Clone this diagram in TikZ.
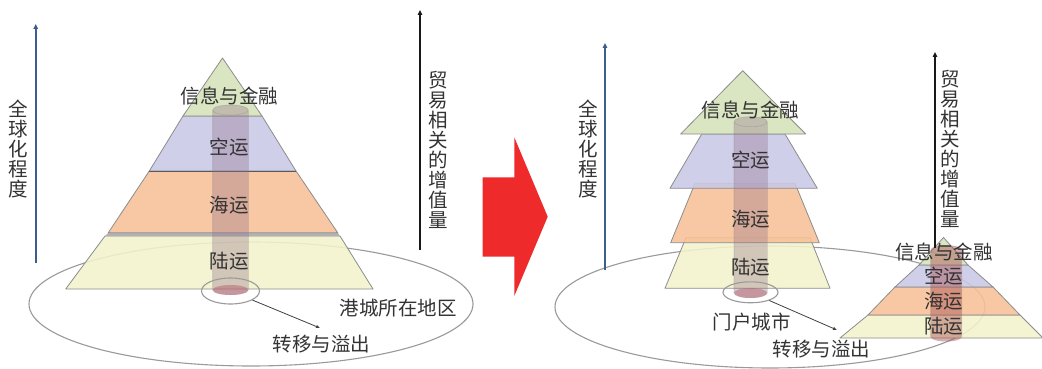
\documentclass[tikz,border=0pt]{standalone}
\usepackage{fontspec}
\newfontfamily\cjk{Noto Sans CJK SC}
\usetikzlibrary{shapes.geometric,arrows.meta,calc}
\definecolor{lgreen}{HTML}{D5E3BA}
\definecolor{lpurple}{HTML}{C9C9E6}
\definecolor{lorange}{HTML}{F7C197}
\definecolor{lyellow}{HTML}{F3F3CC}
\definecolor{edgec}{HTML}{8C8C8C}
\definecolor{txt}{HTML}{333333}
\definecolor{axisblue}{HTML}{3B5F8A}
\definecolor{redarrow}{HTML}{EE2A2A}
\definecolor{cylcol}{HTML}{8E6A86}
\definecolor{cylred}{HTML}{A84E50}
\definecolor{capred}{HTML}{B86A72}
\definecolor{ringc}{HTML}{9A9A9A}
\tikzset{
  band/.style={draw=edgec, line width=0.8pt, line join=round, fill opacity=0.88},
  lbl/.style={font=\cjk\fontsize{19.5}{20}\selectfont, text=txt, inner sep=0pt},
  vlbl/.style={lbl, align=center},
  ring/.style={ellipse, draw=ringc, line width=1.1pt, inner sep=0pt},
  conn/.style={draw=black!75, line width=0.8pt, -{Latex[length=4pt,width=3.5pt]}},
  blueaxis/.style={draw=axisblue, line width=1.6pt, -{Triangle[length=5pt,width=4.5pt]}},
  blackaxis/.style={draw=black!90, line width=1.4pt, -{Triangle[length=5pt,width=4.5pt]}},
  cylline/.style={draw=gray, draw opacity=0.35, line width=0.6pt}
}
\begin{document}
\begin{tikzpicture}[x=1pt,y=-1pt]
\useasboundingbox[fill=white] (0,0) rectangle (1042,369);

% ---------- region ellipses ----------
\node[ring, minimum width=444pt, minimum height=124pt] (reg1) at (251,304) {};
\node[ring, minimum width=430pt, minimum height=122pt] (reg2) at (770,307) {};

% ---------- left pyramid ----------
\filldraw[band, fill=lyellow] (105,236) -- (340,236) -- (373,289) -- (65.7,289) -- cycle;
\fill[gray!60] (108.3,232.7) -- (337.7,232.7) -- (340,236) -- (105,236) -- cycle;
\filldraw[band, fill=lorange] (149.3,171) -- (296,171) -- (337.7,232.7) -- (108.3,232.7) -- cycle;
\filldraw[band, fill=lpurple] (183,116) -- (262,116) -- (296,171) -- (149.3,171) -- cycle;
\draw[line width=1pt, black!65] (149.3,171) -- (296,171);
\filldraw[band, fill=lgreen] (222.5,58) -- (262,116) -- (183,116) -- cycle;

% left cylinder
\fill[cylcol, opacity=0.33] (212.7,110) -- (212.7,290) arc[start angle=180, end angle=360, x radius=17.8pt, y radius=5pt] -- (248.3,110) arc[start angle=0, end angle=180, x radius=17.8pt, y radius=5pt] -- cycle;
\fill[capred, opacity=0.55] (230.5,290) ellipse[x radius=17.8pt, y radius=5pt];
\draw[cylline] (212.7,110) -- (212.7,290) (248.3,110) -- (248.3,290) (230.5,110) ellipse[x radius=17.8pt, y radius=5pt];
\node[ring, minimum width=58pt, minimum height=26pt] (e1) at (230.5,291) {};

% ---------- right big pyramid ----------
\filldraw[band, fill=lyellow] (686,237.7) -- (810,237.7) -- (830,288.3) -- (665,288.3) -- cycle;
\filldraw[band, fill=lorange] (695,183.3) -- (795,183.3) -- (819.3,242.7) -- (670.7,242.7) -- cycle;
\filldraw[band, fill=lpurple] (701.7,134) -- (785,134) -- (817.3,188.3) -- (670,188.3) -- cycle;
\filldraw[band, fill=lgreen] (742.7,70.7) -- (805.7,134) -- (680.7,134) -- cycle;

\fill[cylcol, opacity=0.33] (734,121.7) -- (734,293) arc[start angle=180, end angle=360, x radius=16.6pt, y radius=5pt] -- (767.3,121.7) arc[start angle=0, end angle=180, x radius=16.6pt, y radius=5pt] -- cycle;
\fill[capred, opacity=0.55] (750.6,293) ellipse[x radius=16.6pt, y radius=5pt];
\draw[cylline] (734,121.7) -- (734,293) (767.3,121.7) -- (767.3,293) (750.6,121.7) ellipse[x radius=16.6pt, y radius=5pt];
\node[ring, minimum width=55pt, minimum height=21pt] (e2) at (750.5,292.3) {};

% ---------- right small pyramid ----------
\filldraw[band, fill=lyellow] (868,315) -- (1020,315) -- (1043,338) -- (840,338) -- cycle;
\filldraw[band, fill=lorange] (895,287) -- (993,287) -- (1020,315) -- (868,315) -- cycle;
\filldraw[band, fill=lpurple] (919,265) -- (968,265) -- (993,287) -- (895,287) -- cycle;
\filldraw[band, fill=lgreen] (943.5,237.5) -- (968,265) -- (919,265) -- cycle;

\fill[cylred, opacity=0.45] (930.7,250) -- (930.7,337) arc[start angle=180, end angle=360, x radius=15.5pt, y radius=4.5pt] -- (961.7,250) arc[start angle=0, end angle=180, x radius=15.5pt, y radius=4.5pt] -- cycle;
\draw[cylline] (930.7,250) -- (930.7,337) (961.7,250) -- (961.7,337) (946.2,250) ellipse[x radius=15.5pt, y radius=4.5pt];

% ---------- axes ----------
\coordinate (a1b) at (35.7,263);  \coordinate (a1t) at (35.7,24);
\coordinate (a2b) at (420,250);   \coordinate (a2t) at (420,10);
\coordinate (a3b) at (605,270);   \coordinate (a3t) at (605,43);
\coordinate (a4b) at (935,248);   \coordinate (a4t) at (935,52);
\draw[blueaxis] (a1b) -- (a1t);
\draw[blackaxis] (a2b) -- (a2t);
\draw[blueaxis] (a3b) -- (a3t);
\draw[blackaxis] (a4b) -- (a4t);

% ---------- red arrow ----------
\fill[redarrow] (482.7,177.3) -- (514.3,177.3) -- (514.3,137.3) -- (547.7,216.7) -- (514.3,296) -- (514.3,256.7) -- (482.7,256.7) -- cycle;

% ---------- labels ----------
\node[vlbl] (v1) at (17.8,148.5) {全\\球\\化\\程\\度};
\node[vlbl] (v2) at (438,150) {贸\\易\\相\\关\\的\\增\\值\\量};
\node[vlbl] (v3) at (588,148.5) {全\\球\\化\\程\\度};
\node[vlbl] (v4) at (950,149) {贸\\易\\相\\关\\的\\增\\值\\量};

\node[lbl] (l1) at (229.7,96.5) {信息与金融};
\node[lbl] (l2) at (229.3,147.5) {空运};
\node[lbl] (l3) at (229.3,205.5) {海运};
\node[lbl] (l4) at (229.3,260.7) {陆运};

\node[lbl] (r1) at (750.3,110) {信息与金融};
\node[lbl] (r2) at (750.6,160) {空运};
\node[lbl] (r3) at (750.6,218.7) {海运};
\node[lbl] (r4) at (750.6,266.7) {陆运};

\node[lbl] (s1) at (944,252.5) {信息与金融};
\node[lbl] (s2) at (943.5,276.5) {空运};
\node[lbl] (s3) at (943.5,301.5) {海运};
\node[lbl] (s4) at (943.5,326.5) {陆运};

\node[lbl] (reg1lbl) at (398,308.5) {港城所在地区};
\node[lbl] (gate) at (751.5,321.7) {门户城市};
\node[lbl] (t1) at (321.7,344) {转移与溢出};
\node[lbl] (t2) at (821.7,349) {转移与溢出};

% ---------- connectors ----------
\coordinate (tip1) at (320,328);
\coordinate (tip2) at (837,330);
\draw[conn] (e1) -- (tip1);
\draw[conn] (e2) -- (tip2);
\end{tikzpicture}
\end{document}
